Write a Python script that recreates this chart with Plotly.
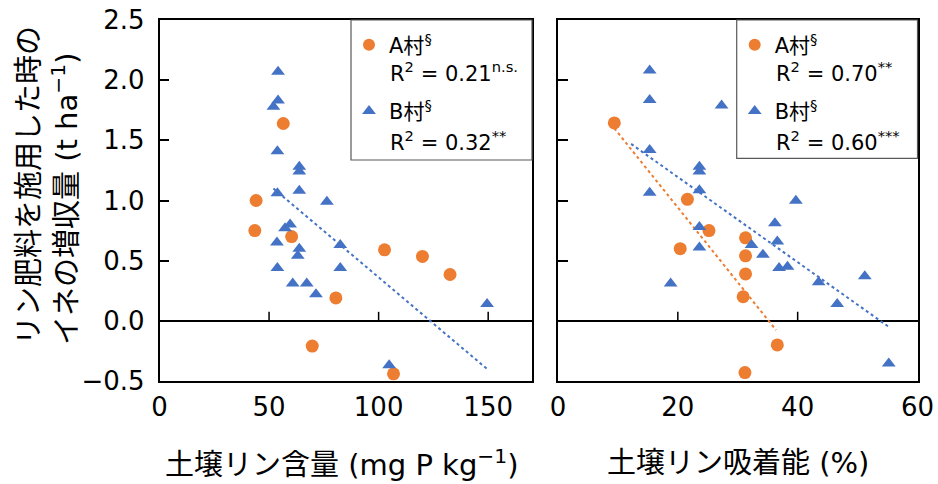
import plotly.graph_objects as go

# ---------------- data ----------------
# Left panel: soil P content (mg P kg-1)
A_content_x = [56.5, 44.1, 43.5, 60.3, 80.5, 102.7, 120.0, 132.6, 69.7, 106.8]
A_content_y = [1.64, 1.00, 0.75, 0.70, 0.19, 0.59, 0.535, 0.385, -0.21, -0.44]
B_content_x = [54.1, 54.1, 52.0, 53.8, 63.8, 63.8, 63.8, 53.8, 76.4, 59.6, 57.3,
               53.6, 82.5, 63.8, 63.1, 53.8, 82.5, 60.8, 67.2, 71.4, 149.5, 104.8]
B_content_y = [2.07, 1.83, 1.78, 1.41, 1.28, 1.24, 1.08, 1.06, 0.99, 0.80, 0.77,
               0.65, 0.63, 0.60, 0.54, 0.44, 0.44, 0.31, 0.31, 0.22, 0.14, -0.37]
trend_B_content_x = [52.0, 149.5]
trend_B_content_y = [1.10, -0.40]

# Right panel: soil P sorption (%)
A_sorp_x = [9.4, 21.6, 25.2, 31.3, 30.9, 20.4, 31.3, 31.3, 36.6, 31.2]
A_sorp_y = [1.645, 1.01, 0.75, 0.69, 0.20, 0.60, 0.54, 0.39, -0.20, -0.43]
B_sorp_x = [15.3, 15.3, 27.3, 15.3, 23.6, 23.6, 23.6, 15.3, 39.7, 23.6, 36.2,
            36.6, 32.3, 23.6, 34.2, 36.9, 38.3, 18.8, 43.5, 51.2, 46.6, 55.2]
B_sorp_y = [2.08, 1.835, 1.79, 1.42, 1.28, 1.24, 1.085, 1.065, 0.997, 0.78, 0.81,
            0.66, 0.63, 0.61, 0.55, 0.44, 0.45, 0.31, 0.32, 0.37, 0.14, -0.355]
trend_A_sorp_x = [9.4, 36.4]
trend_A_sorp_y = [1.60, -0.077]
trend_B_sorp_x = [12.2, 55.2]
trend_B_sorp_y = [1.47, -0.05]

x1_ticks = [0, 50, 100, 150]
x2_ticks = [0, 20, 40, 60]

series_names = ["A村<sup>§</sup>", "B村<sup>§</sup>"]
r2_left = ["R<sup>2</sup> = 0.21<sup>n.s.</sup>", "R<sup>2</sup> = 0.32<sup>**</sup>"]
r2_right = ["R<sup>2</sup> = 0.70<sup>**</sup>", "R<sup>2</sup> = 0.60<sup>***</sup>"]

y_title = "リン肥料を施用した時の<br>イネの増収量 (t ha<sup>−1</sup>)"
x_title_left = "土壌リン含量 (mg P kg<sup>−1</sup>)"
x_title_right = "土壌リン吸着能 (%)"

# ---------------- style ----------------
W, H = 938, 484
ORANGE = "#ED7D31"
BLUE = "#4472C4"
FONT = "DejaVu Sans, Noto Sans CJK JP, sans-serif"
x1_dom = [159.5 / W, 532 / W]
x2_dom = [558 / W, 917.5 / W]
x1_range = [0, 170]
x2_range = [0, 60]
y_dom = [1 - 381 / H, 1 - 20 / H]
y_range = [-0.5, 2.5]
TICK_PX = 9
tick_len_data = TICK_PX / ((y_dom[1] - y_dom[0]) * H) * (y_range[1] - y_range[0])

fig = go.Figure()

def pts(x, y, color, symbol, size, name, xa, ya, leg):
    fig.add_trace(go.Scatter(x=x, y=y, mode="markers", name=name, xaxis=xa, yaxis=ya,
                             legend=leg, legendgroup=name + leg,
                             marker=dict(color=color, symbol=symbol, size=size,
                                         line=dict(width=0))))

def trend(x, y, color, xa, ya):
    fig.add_trace(go.Scatter(x=x, y=y, mode="lines", xaxis=xa, yaxis=ya, showlegend=False,
                             line=dict(color=color, width=2, dash="dot")))

trend(trend_B_content_x, trend_B_content_y, BLUE, "x", "y")
pts(A_content_x, A_content_y, ORANGE, "circle", 13, series_names[0], "x", "y", "legend")
pts(B_content_x, B_content_y, BLUE, "triangle-up", 12, series_names[1], "x", "y", "legend")

trend(trend_A_sorp_x, trend_A_sorp_y, ORANGE, "x2", "y2")
trend(trend_B_sorp_x, trend_B_sorp_y, BLUE, "x2", "y2")
pts(A_sorp_x, A_sorp_y, ORANGE, "circle", 13, series_names[0], "x2", "y2", "legend2")
pts(B_sorp_x, B_sorp_y, BLUE, "triangle-up", 12, series_names[1], "x2", "y2", "legend2")

frame = dict(showline=True, mirror=True, linecolor="black", linewidth=1.5,
             showgrid=False, automargin=False)
tickfont = dict(family=FONT, size=26, color="black")

xbase = dict(frame, zeroline=False, ticks="", tickfont=tickfont, tickmode="array",
             ticklabelstandoff=2)
ybase = dict(frame, range=y_range, domain=y_dom, dtick=0.5, tick0=0, ticks="inside",
             ticklen=10, tickwidth=1.5, tickcolor="black", tickformat=".1f",
             zeroline=True, zerolinecolor="black", zerolinewidth=1.5,
             tickfont=tickfont, ticklabelstandoff=8)

legfont = dict(family=FONT, size=21, color="black")
legbase = dict(xanchor="left", yanchor="top", bgcolor="rgba(0,0,0,0)", borderwidth=0,
               font=legfont, tracegroupgap=36, itemsizing="constant")

fig.update_layout(
    width=W, height=H,
    margin=dict(l=0, r=0, t=0, b=0, autoexpand=False),
    paper_bgcolor="white", plot_bgcolor="white",
    font=dict(family=FONT, color="black"),
    xaxis=dict(xbase, domain=x1_dom, range=x1_range, tickvals=x1_ticks, anchor="y"),
    yaxis=dict(ybase, anchor="x"),
    xaxis2=dict(xbase, domain=x2_dom, range=x2_range, tickvals=x2_ticks, anchor="y2"),
    yaxis2=dict(ybase, anchor="x2", showticklabels=False),
    legend=dict(legbase, x=349 / W, y=1 - 24.5 / H),
    legend2=dict(legbase, x=734.7 / W, y=1 - 24.5 / H),
    showlegend=True,
)

# x tick marks standing on the zero line (inner ticks only; the ends sit on the frame)
for ticks, rng, xr, yr in [(x1_ticks, x1_range, "x", "y"), (x2_ticks, x2_range, "x2", "y2")]:
    for t in ticks:
        if rng[0] < t < rng[1]:
            fig.add_shape(type="line", xref=xr, yref=yr, x0=t, x1=t, y0=0, y1=tick_len_data,
                          line=dict(color="black", width=1.5))

# legend boxes and R^2 lines
for x0, x1, y0, texts in [(351 / W, x1_dom[1], 1 - 160 / H, r2_left),
                          (736.7 / W, x2_dom[1], 1 - 158.3 / H, r2_right)]:
    fig.add_shape(type="rect", xref="paper", yref="paper", x0=x0, x1=x1, y0=y0, y1=y_dom[1],
                  line=dict(color="#595959", width=1.2), fillcolor="rgba(0,0,0,0)")
    for t, ypix in zip(texts, [72, 140.5]):
        fig.add_annotation(text=t, xref="paper", yref="paper", x=x0 + 37 / W, y=1 - ypix / H,
                           xanchor="left", yanchor="middle", showarrow=False, font=legfont)

# axis titles
fig.add_annotation(text=y_title, xref="paper", yref="paper", x=47.5 / W, y=1 - 347 / H,
                   xanchor="center", yanchor="bottom", textangle=-90, align="left",
                   showarrow=False, font=dict(family=FONT, size=29, color="black"))
fig.add_annotation(text=x_title_left, xref="paper", yref="paper",
                   x=341.7 / W, y=1 - 463 / H,
                   xanchor="center", yanchor="middle", showarrow=False,
                   font=dict(family=FONT, size=29, color="black"))
fig.add_annotation(text=x_title_right, xref="paper", yref="paper",
                   x=737.5 / W, y=1 - 463 / H,
                   xanchor="center", yanchor="middle", showarrow=False,
                   font=dict(family=FONT, size=29, color="black"))

fig.write_html("out.html", config={"displayModeBar": False},
               post_script="document.body.style.margin='0px';")
